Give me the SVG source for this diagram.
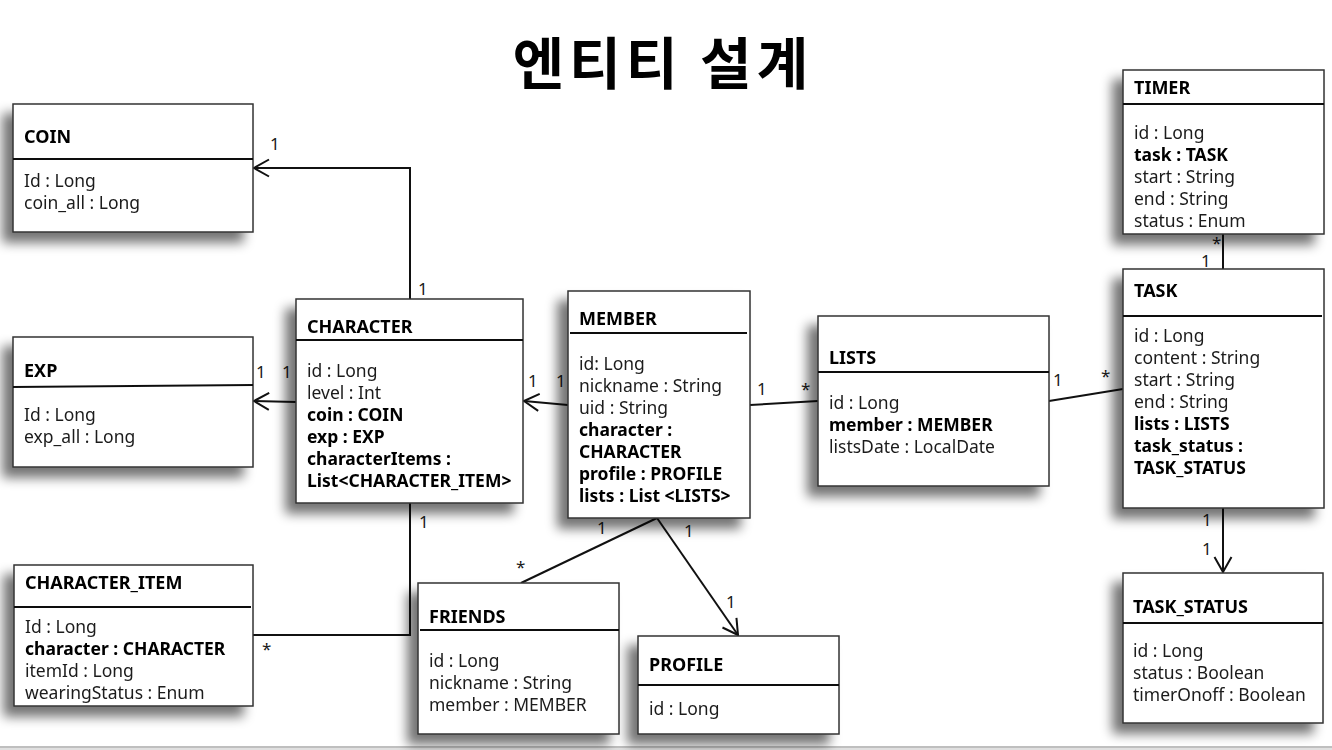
<svg xmlns="http://www.w3.org/2000/svg" width="1332" height="750" viewBox="0 0 1332 750">
<defs>
<filter id="sh" x="-20%" y="-20%" width="140%" height="140%">
<feGaussianBlur in="SourceAlpha" stdDeviation="6"/>
<feOffset dx="-10" dy="10" result="b"/>
<feComponentTransfer><feFuncA type="linear" slope="0.55"/></feComponentTransfer>
<feMerge><feMergeNode/><feMergeNode in="SourceGraphic"/></feMerge>
</filter>
<marker id="arr" viewBox="-16 -10 18 20" refX="0" refY="0" markerWidth="18" markerHeight="20" markerUnits="userSpaceOnUse" orient="auto">
<path d="M-15,-8.5 L0,0 L-15,8.5" fill="none" stroke="#111" stroke-width="2"/>
</marker>
</defs>
<style>
.box{fill:#fff;stroke:#333;stroke-width:1.5}
.div{stroke:#111;stroke-width:2}
.t{font-family:"Segoe UI","Noto Sans",sans-serif;font-size:18px;font-weight:bold;fill:#000}
.f{font-family:"Segoe UI","Noto Sans",sans-serif;font-size:17.5px;fill:#1a1a1a}
.b{font-weight:bold;fill:#000}
.c{fill:none;stroke:#111;stroke-width:2}
.l{font-family:"Segoe UI","Noto Sans",sans-serif;font-size:17px;fill:#1a1a1a}
.title{font-family:"Noto Sans CJK KR",sans-serif;font-size:56px;font-weight:bold;fill:#000;letter-spacing:5px}
</style>
<rect width="1332" height="750" fill="#fff"/>
<line x1="0" y1="747" x2="1332" y2="747" stroke="#aaa" stroke-width="1.5"/>
<rect x="0" y="748" width="1332" height="2" fill="#e0e0e0"/>
<text class="title" x="663" y="84" text-anchor="middle">엔티티 설계</text>

<g id="connectors">
<polyline class="c" points="410,299 410,168 254,168" marker-end="url(#arr)"/>
<line class="c" x1="296" y1="402" x2="254" y2="401" marker-end="url(#arr)"/>
<line class="c" x1="568" y1="405" x2="524" y2="401" marker-end="url(#arr)"/>
<line class="c" x1="750" y1="405" x2="818" y2="401"/>
<line class="c" x1="1049" y1="401" x2="1123" y2="389"/>
<line class="c" x1="1223" y1="234" x2="1223" y2="269"/>
<line class="c" x1="1223" y1="508" x2="1223" y2="572" marker-end="url(#arr)"/>
<polyline class="c" points="410,503 410,635 253,635"/>
<line class="c" x1="657" y1="518" x2="521" y2="583"/>
<line class="c" x1="657" y1="518" x2="738" y2="635" marker-end="url(#arr)"/>
<text class="l" x="270" y="150">1</text>
<text class="l" x="418" y="295">1</text>
<text class="l" x="256" y="378">1</text>
<text class="l" x="282" y="378">1</text>
<text class="l" x="528" y="387">1</text>
<text class="l" x="556" y="387">1</text>
<text class="l" x="757" y="395">1</text>
<text class="l" x="801" y="395">*</text>
<text class="l" x="1053" y="386">1</text>
<text class="l" x="1101" y="382">*</text>
<text class="l" x="1212" y="249" font-size="14">*</text>
<text class="l" x="1201" y="267" font-size="15">1</text>
<text class="l" x="1202" y="526">1</text>
<text class="l" x="1202" y="555">1</text>
<text class="l" x="419" y="528">1</text>
<text class="l" x="262" y="655">*</text>
<text class="l" x="597" y="534">1</text>
<text class="l" x="516" y="573">*</text>
<text class="l" x="684" y="537">1</text>
<text class="l" x="726" y="608">1</text>
</g>

<g id="coin" filter="url(#sh)">
<rect class="box" x="13" y="104" width="240" height="128"/>
<line class="div" x1="13" y1="159" x2="253" y2="159"/>
<text class="t" x="24" y="143">COIN</text>
<text class="f" x="24" y="187">Id : Long</text>
<text class="f" x="24" y="209">coin_all : Long</text>
</g>

<g id="exp" filter="url(#sh)">
<rect class="box" x="13" y="337" width="240" height="130"/>
<line class="div" x1="13" y1="387" x2="253" y2="385"/>
<text class="t" x="24" y="377">EXP</text>
<text class="f" x="24" y="421">Id : Long</text>
<text class="f" x="24" y="443">exp_all : Long</text>
</g>

<g id="character" filter="url(#sh)">
<rect class="box" x="296" y="299" width="227" height="204"/>
<line class="div" x1="296" y1="340" x2="523" y2="340"/>
<text class="t" x="307" y="333">CHARACTER</text>
<text class="f" x="307" y="377">id : Long</text>
<text class="f" x="307" y="399">level : Int</text>
<text class="f b" x="307" y="421">coin : COIN</text>
<text class="f b" x="307" y="443">exp : EXP</text>
<text class="f b" x="307" y="465">characterItems :</text>
<text class="f b" x="307" y="487">List&lt;CHARACTER_ITEM&gt;</text>
</g>

<g id="member" filter="url(#sh)">
<rect class="box" x="568" y="291" width="182" height="227"/>
<line class="div" x1="570" y1="333" x2="747" y2="333"/>
<text class="t" x="579" y="325">MEMBER</text>
<text class="f" x="579" y="370">id: Long</text>
<text class="f" x="579" y="392">nickname : String</text>
<text class="f" x="579" y="414">uid : String</text>
<text class="f b" x="579" y="436">character :</text>
<text class="f b" x="579" y="458">CHARACTER</text>
<text class="f b" x="579" y="480">profile : PROFILE</text>
<text class="f b" x="579" y="502">lists : List &lt;LISTS&gt;</text>
</g>

<g id="lists" filter="url(#sh)">
<rect class="box" x="818" y="316" width="231" height="170"/>
<line class="div" x1="818" y1="372" x2="1049" y2="372"/>
<text class="t" x="829" y="364">LISTS</text>
<text class="f" x="829" y="409">id : Long</text>
<text class="f b" x="829" y="431">member : MEMBER</text>
<text class="f" x="829" y="453">listsDate : LocalDate</text>
</g>

<g id="timer" filter="url(#sh)">
<rect class="box" x="1123" y="70" width="201" height="164"/>
<line class="div" x1="1123" y1="104" x2="1324" y2="104"/>
<text class="t" x="1134" y="94">TIMER</text>
<text class="f" x="1134" y="139">id : Long</text>
<text class="f b" x="1134" y="161">task : TASK</text>
<text class="f" x="1134" y="183">start : String</text>
<text class="f" x="1134" y="205">end : String</text>
<text class="f" x="1134" y="227">status : Enum</text>
</g>

<g id="task" filter="url(#sh)">
<rect class="box" x="1123" y="269" width="201" height="239"/>
<line class="div" x1="1123" y1="316" x2="1322" y2="316"/>
<text class="t" x="1134" y="297">TASK</text>
<text class="f" x="1134" y="342">id : Long</text>
<text class="f" x="1134" y="364">content : String</text>
<text class="f" x="1134" y="386">start : String</text>
<text class="f" x="1134" y="408">end : String</text>
<text class="f b" x="1134" y="430">lists : LISTS</text>
<text class="f b" x="1134" y="452">task_status :</text>
<text class="f b" x="1134" y="474">TASK_STATUS</text>
</g>

<g id="task_status" filter="url(#sh)">
<rect class="box" x="1123" y="573" width="200" height="150"/>
<line class="div" x1="1123" y1="623" x2="1323" y2="623"/>
<text class="t" x="1133" y="613">TASK_STATUS</text>
<text class="f" x="1133" y="657">id : Long</text>
<text class="f" x="1133" y="679">status : Boolean</text>
<text class="f" x="1133" y="701">timerOnoff : Boolean</text>
</g>

<g id="character_item" filter="url(#sh)">
<rect class="box" x="14" y="565" width="239" height="141"/>
<line class="div" x1="14" y1="607" x2="251" y2="607"/>
<text class="t" x="25" y="589">CHARACTER_ITEM</text>
<text class="f" x="25" y="633">Id : Long</text>
<text class="f b" x="25" y="655">character : CHARACTER</text>
<text class="f" x="25" y="677">itemId : Long</text>
<text class="f" x="25" y="699">wearingStatus : Enum</text>
</g>

<g id="friends" filter="url(#sh)">
<rect class="box" x="418" y="583" width="201" height="151"/>
<line class="div" x1="420" y1="630" x2="619" y2="630"/>
<text class="t" x="429" y="623">FRIENDS</text>
<text class="f" x="429" y="667">id : Long</text>
<text class="f" x="429" y="689">nickname : String</text>
<text class="f" x="429" y="711">member : MEMBER</text>
</g>

<g id="profile" filter="url(#sh)">
<rect class="box" x="638" y="636" width="201" height="98"/>
<line class="div" x1="638" y1="685" x2="839" y2="685"/>
<text class="t" x="649" y="671">PROFILE</text>
<text class="f" x="649" y="715">id : Long</text>
</g>
</svg>
